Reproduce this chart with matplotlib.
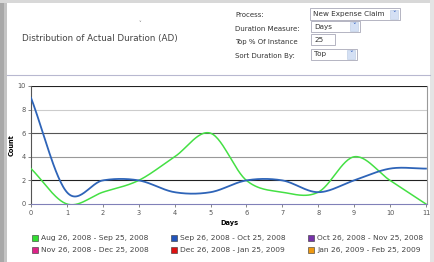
import matplotlib.pyplot as plt
from matplotlib.patches import Rectangle
import numpy as np

days = [0, 1, 2, 3, 4, 5, 6, 7, 8, 9, 10, 11]
aug_sep = [3, 0, 1, 2, 4, 6, 2, 1, 1, 4, 2, 0]
sep_oct = [9, 1, 2, 2, 1, 1, 2, 2, 1, 2, 3, 3]

legend_labels = ["Aug 26, 2008 - Sep 25, 2008", "Sep 26, 2008 - Oct 25, 2008",
                 "Oct 26, 2008 - Nov 25, 2008", "Nov 26, 2008 - Dec 25, 2008",
                 "Dec 26, 2008 - Jan 25, 2009", "Jan 26, 2009 - Feb 25, 2009"]
legend_colors = ["#33dd33", "#2255bb", "#7733aa", "#dd2288", "#dd1111", "#ee9911"]

controls = ["Process:", "Duration Measure:", "Top % Of Instance", "Sort Duration By:"]
control_values = ["New Expense Claim", "Days", "25", "Top"]

W, H = 434, 262


def fx(px):
    return px / W


def fy(py):
    return 1 - py / H


def smooth(x, y, n=30):
    # catmull-rom style curve, only used to draw the line between the points
    x = np.asarray(x, float)
    y = np.asarray(y, float)
    m = np.gradient(y, x)
    xs_all, ys_all = [], []
    for i in range(len(x) - 1):
        t = np.linspace(0, 1, n)
        h = x[i + 1] - x[i]
        h00 = 2 * t ** 3 - 3 * t ** 2 + 1
        h10 = t ** 3 - 2 * t ** 2 + t
        h01 = -2 * t ** 3 + 3 * t ** 2
        h11 = t ** 3 - t ** 2
        xs_all.append(x[i] + t * h)
        ys_all.append(h00 * y[i] + h10 * h * m[i] + h01 * y[i + 1] + h11 * h * m[i + 1])
    return np.concatenate(xs_all), np.concatenate(ys_all)


fig = plt.figure(figsize=(4.34, 2.62), dpi=100)
fig.patch.set_facecolor("white")

# page frame / shadows
fig.add_artist(Rectangle((0, 0), fx(4), 1, transform=fig.transFigure, color="#a8a8a8", lw=0))
fig.add_artist(Rectangle((fx(4), 0), fx(3), 1, transform=fig.transFigure, color="#c4c4c4", lw=0))
fig.add_artist(Rectangle((0, fy(3)), 1, fy(0) - fy(3), transform=fig.transFigure, color="#d8d8d8", lw=0))
fig.add_artist(Rectangle((fx(430), 0), fx(4), 1, transform=fig.transFigure, color="#e4e4e4", lw=0))
fig.add_artist(plt.Line2D([fx(7), fx(430)], [fy(75), fy(75)], transform=fig.transFigure,
                          color="#b8b8d0", lw=0.8))

# header
fig.text(fx(22), fy(38), "Distribution of Actual Duration (AD)", fontsize=6.3,
         color="#444444", va="center", ha="left")
fig.text(fx(140), fy(23), "\u02c5", fontsize=4, color="#777777", va="center", ha="center")
label_y = [15, 29, 42, 56]
for lab, yy in zip(controls, label_y):
    fig.text(fx(235), fy(yy), lab, fontsize=5.0, color="#333333", va="center", ha="left")

boxes = [(310, 400, 14, True), (311, 360, 26.5, True), (311, 335, 39.5, False), (311, 357, 54, True)]
for (x0, x1, yc, arrow), val in zip(boxes, control_values):
    fig.add_artist(Rectangle((fx(x0), fy(yc + 5.5)), fx(x1 - x0), fy(yc - 5.5) - fy(yc + 5.5),
                             transform=fig.transFigure, facecolor="white",
                             edgecolor="#a8a8b8", lw=0.6))
    fig.text(fx(x0 + 3), fy(yc), val, fontsize=5.2, color="#333333", va="center", ha="left")
    if arrow:
        fig.add_artist(Rectangle((fx(x1 - 10), fy(yc + 4.5)), fx(8), fy(yc - 4.5) - fy(yc + 4.5),
                                 transform=fig.transFigure, facecolor="#d4e0f4",
                                 edgecolor="#b8c8e0", lw=0.4))
        fig.text(fx(x1 - 6), fy(yc), "\u02c5", fontsize=5, color="#3060c0",
                 va="center", ha="center", fontweight="bold")

# chart
ax = fig.add_axes([fx(31), fy(204), fx(427) - fx(31), fy(86) - fy(204)])
ax.set_xlim(0, 11.03)
ax.set_ylim(0, 10)
for v, c in [(2, "#222222"), (4, "#999999"), (6, "#555555"), (8, "#cccccc"), (10, "#222222")]:
    ax.axhline(v, color=c, lw=0.8, zorder=1)

xs, ys = smooth(days, aug_sep)
ax.plot(xs, ys, color="#44e044", lw=1.1, zorder=3)
xs, ys = smooth(days, sep_oct)
ax.plot(xs, ys, color="#2e64b8", lw=1.3, zorder=3)

ax.set_xticks(days)
ax.set_yticks([0, 2, 4, 6, 8, 10])
ax.tick_params(labelsize=4.8, colors="#555555", length=2, width=0.5, pad=2)
ax.spines["top"].set_visible(False)
ax.spines["left"].set_color("#555555")
ax.spines["right"].set_color("#999999")
ax.spines["bottom"].set_color("#8080b8")
for s in ax.spines.values():
    s.set_linewidth(0.8)
ax.set_ylabel("Count", fontsize=4.8, fontweight="bold", labelpad=2)
ax.set_xlabel("Days", fontsize=4.8, fontweight="bold", labelpad=3)

# legend
cols = [32, 171, 308]
rows = [238, 250]
for i, (lab, col) in enumerate(zip(legend_labels, legend_colors)):
    x0 = cols[i % 3]
    y0 = rows[i // 3]
    fig.add_artist(Rectangle((fx(x0), fy(y0 + 3)), fx(6), fy(y0 - 3) - fy(y0 + 3),
                             transform=fig.transFigure, facecolor=col,
                             edgecolor="#333333", lw=0.4))
    fig.text(fx(x0 + 9), fy(y0), lab, fontsize=5.4, color="#444444", va="center", ha="left")

fig.savefig("out.png", dpi=100)
